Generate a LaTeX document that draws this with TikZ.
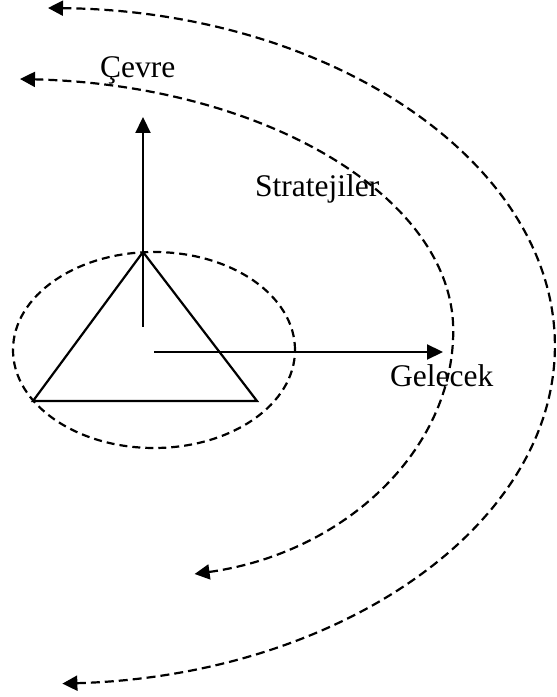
\documentclass[tikz,border=0pt]{standalone}
\usepackage{fontspec}
\setmainfont{Liberation Serif}
\usetikzlibrary{shapes.geometric, arrows.meta, positioning}
\tikzset{
  % --- Cizgiler ---------------------------------------------
  dasharc/.style={<->, >={Triangle[length=15pt, width=15pt]}, line width=2.2pt,
    dash pattern=on 9pt off 5pt},
  solidarr/.style={->, >={Triangle[length=16pt, width=15pt]}, line width=2.2pt},
  edge/.style={line width=2.2pt, line join=miter},
  coreell/.style={draw, ellipse, line width=2.2pt, dash pattern=on 8pt off 5pt,
    minimum width=282pt, minimum height=196pt, inner sep=0pt},
  % --- Yazilar ----------------------------------------------
  lbl/.style={font=\fontsize{31.5}{36}\selectfont, inner sep=0pt, anchor=base west}
}
\begin{document}
\begin{tikzpicture}[x=1pt, y=1pt]
  \useasboundingbox (0,0) rectangle (557,697);

  % --- Orta: elips ve ucgen -----------------------------------
  \node[coreell] (core) at (154,347) {};
  \coordinate (apex) at (143,445);
  \coordinate (baseL) at (33,296);
  \coordinate (baseR) at (257,296);
  \draw[edge] (apex) -- (baseL) -- (baseR) -- cycle;

  % --- Eksenler -----------------------------------------------
  \coordinate (vStart) at (143,370);
  \coordinate (vEnd) at (143,580);
  \coordinate (hStart) at (154,345);
  \coordinate (hEnd) at (443,345);
  \draw[solidarr] (vStart) -- (vEnd);
  \draw[solidarr] (hStart) -- (hEnd);

  % --- Yaylar -------------------------------------------------
  \coordinate (innerTop) at (20,618);
  \coordinate (outerTop) at (48,689);
  \draw[dasharc] (innerTop)
    arc[start angle=87.5, end angle=0, x radius=453pt, y radius=252pt]
    arc[start angle=0, end angle=-80, x radius=313pt, y radius=247pt];
  \draw[dasharc] (outerTop)
    arc[start angle=89.1, end angle=-87.5, x radius=515pt, y radius=338pt];

  % --- Etiketler ----------------------------------------------
  \node[lbl] (cevre) at (100,619) {Çevre};
  \node[lbl] (strat) at (255,500) {Stratejiler};
  \node[lbl] (gelecek) at (390,310) {Gelecek};

\end{tikzpicture}
\end{document}
